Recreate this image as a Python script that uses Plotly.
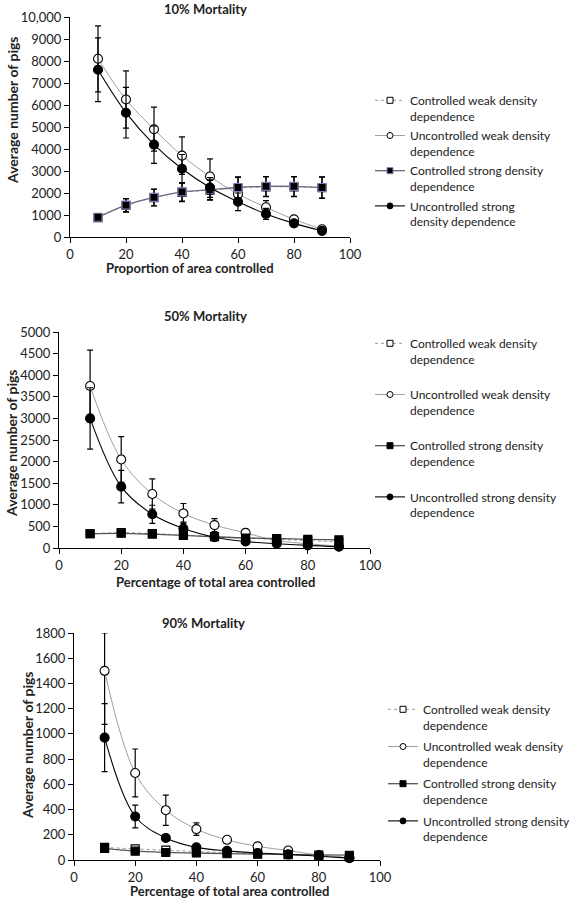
import plotly.graph_objects as go

W, H = 578, 900

x = [10, 20, 30, 40, 50, 60, 70, 80, 90]

names = ["Controlled weak density<br>dependence",
         "Uncontrolled weak density<br>dependence",
         "Controlled strong density<br>dependence",
         "Uncontrolled strong<br>density dependence"]
names_b = ["Controlled weak density<br>dependence",
           "Uncontrolled weak density<br>dependence",
           "Controlled strong density<br>dependence",
           "Uncontrolled strong density<br>dependence"]

# 10% mortality
m10_cw = [880, 1430, 1790, 2030, 2130, 2230, 2280, 2280, 2240]
m10_cw_err = [150, 300, 380, 420, 450, 480, 450, 450, 480]
m10_uw = [8100, 6250, 4900, 3700, 2750, 1950, 1350, 800, 350]
m10_uw_err = [1500, 1300, 1000, 850, 800, 400, 300, 120, 80]
m10_cs = [900, 1450, 1800, 2050, 2150, 2250, 2300, 2300, 2250]
m10_cs_err = [150, 300, 380, 420, 450, 480, 450, 450, 480]
m10_us = [7600, 5650, 4200, 3100, 2250, 1600, 1050, 620, 280]
m10_us_err = [1450, 1150, 850, 650, 450, 400, 250, 120, 60]

# 50% mortality
m50_cw = [330, 355, 335, 300, 265, 230, 200, 170, 140]
m50_cw_err = [20, 20, 20, 20, 20, 15, 15, 15, 15]
m50_uw = [3750, 2050, 1250, 800, 530, 350, 170, 100, 40]
m50_uw_err = [830, 530, 350, 230, 150, 80, 50, 30, 15]
m50_cs = [330, 340, 320, 290, 260, 230, 220, 200, 190]
m50_cs_err = [20, 20, 20, 20, 20, 15, 15, 15, 15]
m50_us = [3000, 1420, 780, 450, 250, 150, 100, 60, 30]
m50_us_err = [710, 375, 210, 150, 80, 50, 30, 20, 10]

# 90% mortality
m90_cw = [100, 88, 78, 68, 58, 50, 44, 32, 25]
m90_cw_err = [5, 5, 5, 5, 5, 4, 4, 3, 3]
m90_uw = [1500, 690, 395, 245, 160, 108, 75, 40, 18]
m90_uw_err_plus = [300, 190, 120, 50, 25, 15, 10, 5, 5]
m90_uw_err_minus = [425, 190, 120, 50, 25, 15, 10, 5, 5]
m90_cs = [92, 70, 60, 55, 50, 46, 43, 40, 38]
m90_cs_err = [5, 5, 5, 5, 5, 4, 4, 3, 3]
m90_us = [970, 345, 175, 100, 72, 55, 45, 30, 15]
m90_us_err = [270, 90, 20, 15, 10, 5, 5, 5, 5]

y1_ticks = [0, 1000, 2000, 3000, 4000, 5000, 6000, 7000, 8000, 9000, 10000]
y1_text = ["0", "1000", "2000", "3000", "4000", "5000", "6000", "7000", "8000", "9000", "10,000"]

FONT = "Lato"


def px_x(p):
    return p / W


def px_y(p):
    return 1 - p / H


fig = go.Figure()


def err(arr, minus=None):
    d = dict(type="data", array=arr, visible=True, color="black", thickness=1.2, width=3)
    if minus is not None:
        d["symmetric"] = False
        d["arrayminus"] = minus
    return d


def add_panel(k, cw, cwe, uw, uwe, cs, cse, us, use, uwm=None, cs_line="#555555", cs_edge="black", nm=names):
    xa = "x" if k == 1 else f"x{k}"
    ya = "y" if k == 1 else f"y{k}"
    lg = "legend" if k == 1 else f"legend{k}"
    styles = [
        (cw, cwe, None, dict(color="#9a9a9a", width=1, dash="dot"), "square", "white", "black"),
        (uw, uwe, uwm, dict(color="#a0a0a0", width=1), "circle", "white", "black"),
        (cs, cse, None, dict(color=cs_line, width=1.3), "square", "black", cs_edge),
        (us, use, None, dict(color="black", width=1.1), "circle", "black", "black"),
    ]
    for j, (yv, ev, em, ln, sym, fill, edge) in enumerate(styles):
        big = 8 if sym == "square" else 9
        fig.add_trace(go.Scatter(x=x, y=yv, xaxis=xa, yaxis=ya, mode="lines+markers", cliponaxis=False,
                                 showlegend=False, error_y=err(ev, em),
                                 line=dict(ln, shape="spline"),
                                 marker=dict(symbol=sym, size=big, color=fill, line=dict(color=edge, width=1.1))))
    for j, (yv, ev, em, ln, sym, fill, edge) in enumerate(styles):
        fig.add_trace(go.Scatter(x=[None], y=[None], xaxis=xa, yaxis=ya, mode="lines+markers",
                                 name=nm[j], legend=lg, legendgroup=f"g{k}{j}", showlegend=True,
                                 line=ln,
                                 marker=dict(symbol=sym, size=6, color=fill,
                                             line=dict(color=edge, width=1))))


add_panel(1, m10_cw, m10_cw_err, m10_uw, m10_uw_err, m10_cs, m10_cs_err, m10_us, m10_us_err,
          cs_line="#6e6680", cs_edge="#8878b8", nm=names)
add_panel(2, m50_cw, m50_cw_err, m50_uw, m50_uw_err, m50_cs, m50_cs_err, m50_us, m50_us_err, nm=names_b)
add_panel(3, m90_cw, m90_cw_err, m90_uw, m90_uw_err_plus, m90_cs, m90_cs_err, m90_us, m90_us_err,
          uwm=m90_uw_err_minus, nm=names_b)

axis_common = dict(showline=True, linecolor="black", linewidth=1, ticks="outside", ticklen=5,
                   tickcolor="black", showgrid=False, zeroline=False, automargin=False,
                   tickfont=dict(family=FONT, size=13, color="#222"))

panels = [
    # x0, x1, ytop, ybottom, ymax, dtick
    (70, 350, 17, 237, 10000, None),
    (59, 370, 332, 548, 5000, 500),
    (74, 380, 633, 860, 1800, 200),
]
for i, (x0, x1, yt, yb, ymax, dt) in enumerate(panels, start=1):
    sfx = "" if i == 1 else str(i)
    xa = dict(axis_common, domain=[px_x(x0), px_x(x1)], range=[0, 100], tickvals=[0, 20, 40, 60, 80, 100],
              anchor="y" + sfx)
    ya = dict(axis_common, domain=[px_y(yb), px_y(yt)], range=[0, ymax], anchor="x" + sfx)
    if i == 1:
        ya.update(tickvals=y1_ticks, ticktext=y1_text)
    else:
        ya.update(dtick=dt, tick0=0)
    fig.layout["xaxis" + sfx] = xa
    fig.layout["yaxis" + sfx] = ya

leg_common = dict(font=dict(family=FONT, size=12, color="#222"), bgcolor="rgba(0,0,0,0)",
                  xanchor="left", yanchor="top", valign="top", traceorder="grouped", itemwidth=30)
fig.update_layout(
    legend=dict(leg_common, x=px_x(370), y=px_y(86), tracegroupgap=1),
    legend2=dict(leg_common, x=px_x(370), y=px_y(329), tracegroupgap=17),
    legend3=dict(leg_common, x=px_x(383), y=px_y(695), tracegroupgap=3),
)

annots = [
    ("10% Mortality", 205, 9, 0, 13),
    ("50% Mortality", 205, 316, 0, 13),
    ("90% Mortality", 203, 623, 0, 13),
    ("Average number of pigs", 12, 110, -90, 14),
    ("Average number of pigs", 11, 443, -90, 14),
    ("Average number of pigs", 27, 745, -90, 14),
    ("Proportion of area controlled", 190, 268, 0, 13),
    ("Percentage of total area controlled", 215, 582, 0, 13),
    ("Percentage of total area controlled", 229, 891, 0, 13),
]
for txt, ax_, ay_, rot, sz in annots:
    fig.add_annotation(text=f"<b>{txt}</b>", x=px_x(ax_), y=px_y(ay_), xref="paper", yref="paper",
                       showarrow=False, textangle=rot, xanchor="center", yanchor="middle",
                       font=dict(family=FONT, size=sz, color="#222"))

fig.update_layout(width=W, height=H, margin=dict(l=0, r=0, t=0, b=0),
                  paper_bgcolor="white", plot_bgcolor="white", showlegend=True)

fig.write_html("out.html", config={"displayModeBar": False},
               post_script="document.body.style.margin='0px';document.body.style.overflow='hidden';")
